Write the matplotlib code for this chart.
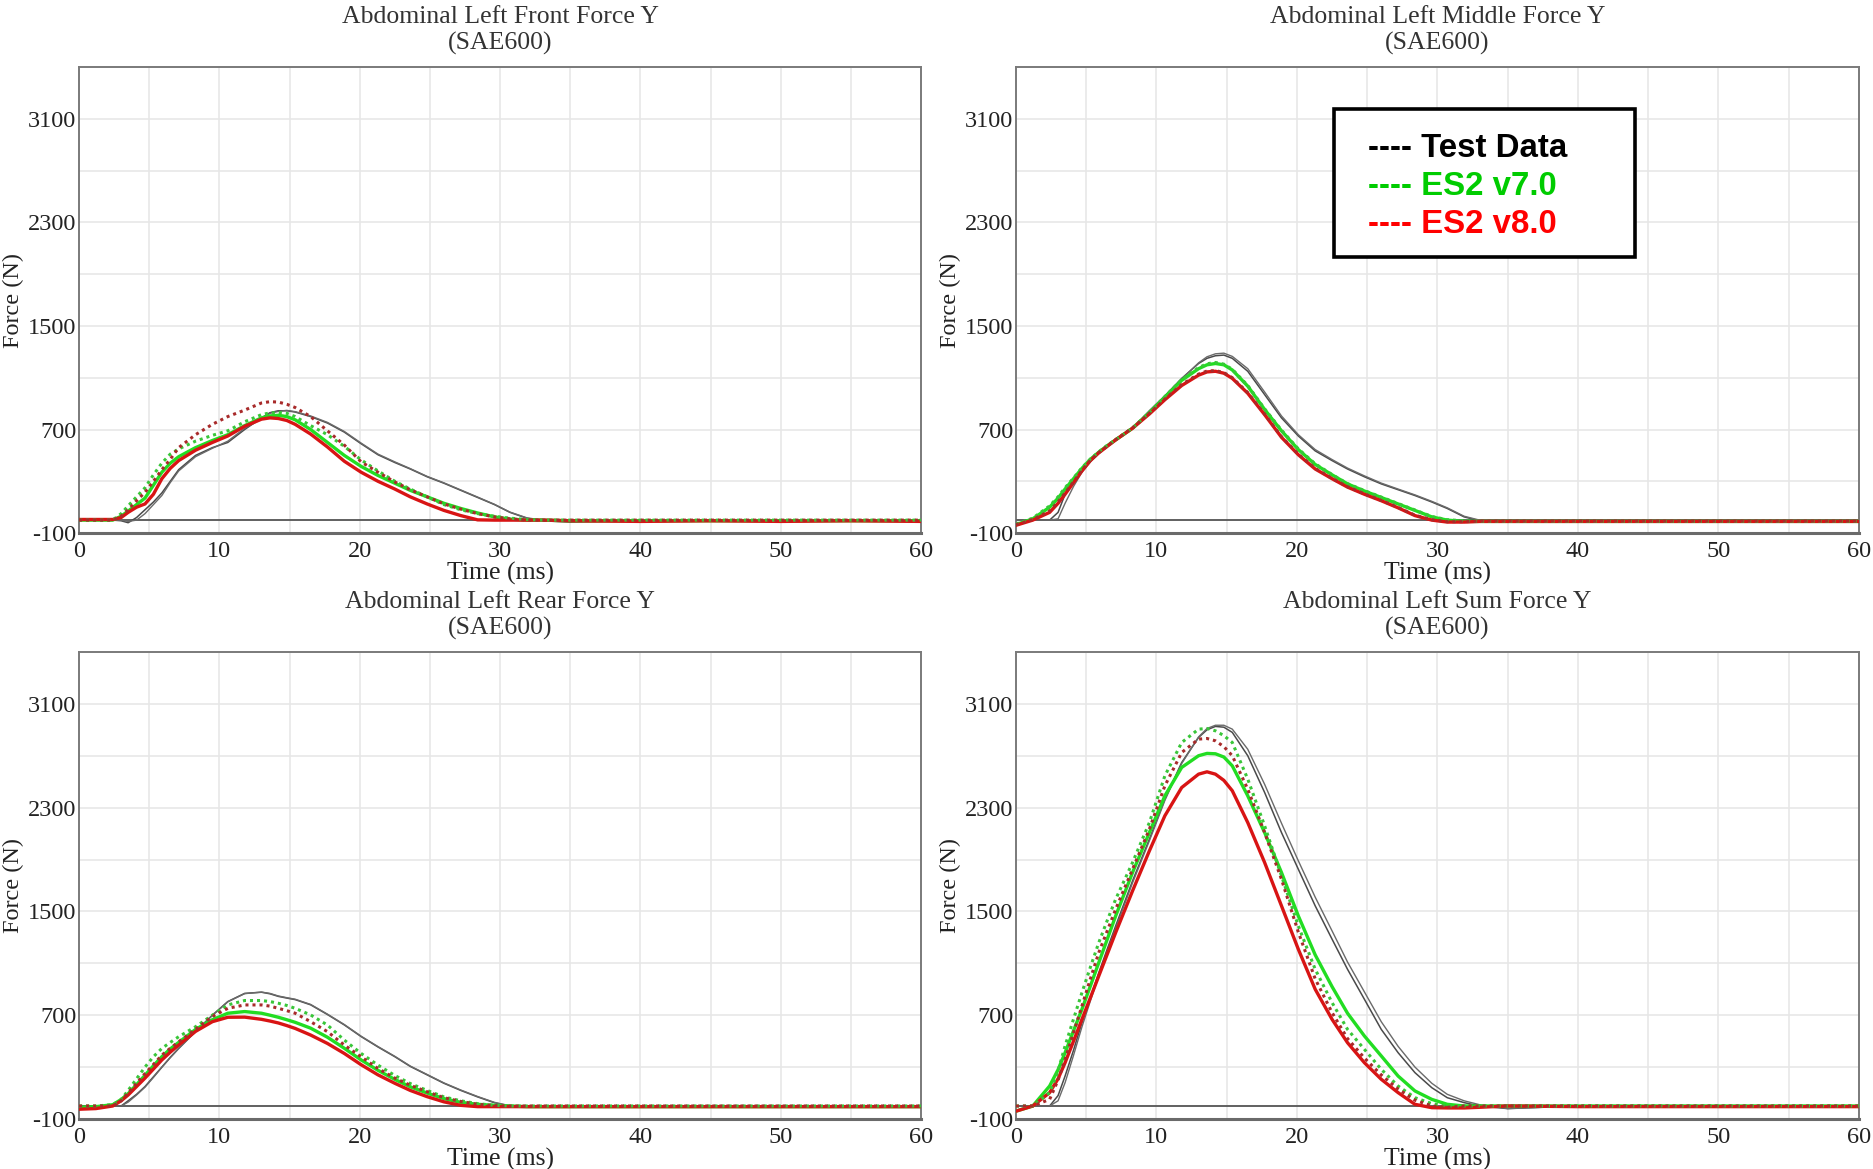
import matplotlib
matplotlib.use("Agg")
import matplotlib.pyplot as plt
from matplotlib.patches import Rectangle
from matplotlib.ticker import FixedLocator

plt.rcParams["axes.unicode_minus"] = False

# ---------------- data ----------------
time_ms = [0, 1.2, 2.4, 3.0, 3.5, 4.1, 4.7, 5.3, 5.9, 6.5, 7.1, 8.3, 9.5, 10.6, 11.8,
           13.0, 13.6, 14.2, 14.8, 15.4, 16.5, 17.7, 18.9, 20.1, 21.3, 22.5, 23.6,
           24.8, 26.0, 27.2, 28.4, 29.6, 30.7, 31.9, 33.0, 35, 40, 45, 50, 55, 60]

panel_titles = ["Abdominal Left Front Force Y", "Abdominal Left Middle Force Y",
                "Abdominal Left Rear Force Y", "Abdominal Left Sum Force Y"]
panel_subtitle = "(SAE600)"

x_ticks = [0, 10, 20, 30, 40, 50, 60]
y_ticks = [-100, 700, 1500, 2300, 3100]

legend_labels = ["---- Test Data", "---- ES2 v7.0", "---- ES2 v8.0"]

# Front
front_test_a = [0, 0, 0, -5, -20, 20, 80, 140, 210, 300, 390, 500, 560, 600, 700, 790, 830, 845, 845, 835,
                800, 750, 680, 590, 505, 445, 395, 335, 285, 230, 175, 120, 60, 15, -5, -15, -5, -5, -5, -5, -5]
front_test_b = [0, 0, 0, 0, -10, 0, 50, 120, 190, 290, 380, 490, 555, 610, 710, 780, 825, 840, 848, 838,
                805, 755, 685, 595, 510, 450, 398, 338, 288, 233, 178, 122, 62, 18, 0, -10, -5, -5, -5, -5, -5]
front_v7 = [0, 0, 0, 30, 70, 120, 170, 270, 370, 440, 490, 560, 615, 660, 730, 790, 805, 810, 800, 775,
            700, 600, 500, 415, 345, 285, 230, 180, 130, 90, 55, 25, 8, 0, 0, -5, -5, -5, -5, -5, -5]
front_v7_dot = [0, 0, 0, 50, 110, 180, 250, 350, 440, 510, 550, 610, 655, 690, 760, 815, 828, 832, 825, 800,
                730, 660, 570, 465, 380, 300, 240, 180, 120, 80, 50, 30, 15, 5, 0, 0, 0, 0, 0, 0, 0]
front_v8 = [5, 5, 5, 20, 60, 100, 125, 200, 320, 400, 460, 540, 600, 650, 725, 780, 790, 785, 770, 740,
            665, 565, 455, 370, 300, 240, 180, 125, 75, 35, 2, 0, 0, 0, 0, -5, -10, -5, -10, -5, -10]
front_v8_dot = [0, 0, 0, 30, 80, 150, 215, 300, 390, 470, 560, 660, 740, 800, 850, 905, 915, 912, 895, 870,
                800, 690, 580, 450, 370, 295, 235, 180, 125, 85, 50, 25, 10, 0, 0, 0, 0, 0, 0, 0, 0]

# Middle
middle_test_a = [0, 0, 0, 60, 200, 300, 385, 455, 520, 575, 620, 710, 845, 960, 1095, 1210, 1250, 1270, 1275, 1250,
                 1150, 970, 790, 650, 535, 460, 395, 335, 280, 235, 190, 140, 90, 25, -5, -10, -10, -10, -10, -5, -5]
middle_test_b = [0, 0, 0, 10, 130, 260, 370, 450, 515, 572, 618, 712, 840, 955, 1090, 1215, 1262, 1285, 1290, 1265,
                 1170, 990, 805, 660, 545, 468, 402, 342, 286, 240, 195, 145, 95, 30, 0, -10, -10, -10, -10, -5, -5]
middle_v7 = [-35, 10, 100, 170, 240, 320, 400, 470, 525, 575, 620, 710, 830, 950, 1080, 1170, 1200, 1210, 1200, 1160,
             1035, 855, 690, 545, 430, 350, 280, 225, 175, 125, 75, 25, 0, -10, -10, -10, -10, -10, -10, -10, -10]
middle_v7_dot = [-30, 15, 110, 180, 250, 325, 405, 472, 528, 578, 622, 712, 832, 955, 1085, 1178, 1208, 1218, 1205, 1165,
                 1040, 860, 695, 550, 435, 352, 282, 228, 178, 128, 78, 28, 3, -5, -10, -10, -10, -10, -10, -10, -10]
middle_v8 = [-40, 0, 60, 130, 200, 290, 380, 460, 520, 570, 620, 710, 820, 930, 1040, 1120, 1145, 1150, 1135, 1095,
             980, 815, 640, 505, 395, 320, 255, 200, 150, 95, 35, 0, -15, -15, -10, -10, -10, -10, -10, -10, -10]
middle_v8_dot = [-35, 5, 70, 140, 210, 295, 385, 462, 522, 572, 622, 712, 825, 935, 1048, 1128, 1152, 1155, 1140, 1100,
                 985, 820, 645, 510, 400, 322, 258, 203, 152, 98, 38, 3, -12, -12, -8, -8, -8, -8, -8, -8, -8]

# Rear
rear_test_a = [-5, 0, 0, 0, 40, 90, 150, 225, 300, 375, 445, 575, 700, 805, 868, 877, 865, 845, 832, 820,
               780, 705, 625, 535, 455, 380, 305, 240, 175, 120, 70, 25, 0, -5, -5, -5, -5, -5, -5, -5, -5]
rear_test_b = [-5, 0, 0, 0, 30, 85, 145, 220, 298, 372, 442, 572, 698, 803, 866, 878, 868, 848, 835, 823,
               783, 708, 628, 538, 458, 383, 308, 243, 178, 123, 73, 28, 2, -5, -5, -5, -5, -5, -5, -5, -5]
rear_v7 = [-10, -5, 10, 50, 95, 165, 237, 310, 380, 440, 490, 590, 665, 715, 728, 715, 700, 684, 665, 645,
           600, 530, 445, 355, 275, 205, 148, 100, 57, 28, 13, 5, 0, -5, -5, -5, -5, -5, -5, -5, -5]
rear_v7_dot = [0, 0, 10, 50, 120, 210, 300, 380, 444, 490, 534, 611, 700, 779, 813, 813, 805, 792, 775, 753,
               702, 624, 508, 405, 315, 235, 173, 120, 70, 40, 18, 5, 0, 0, 0, 0, 0, 0, 0, 0, 0]
rear_v8 = [-25, -20, 0, 40, 85, 150, 215, 285, 355, 415, 470, 575, 650, 684, 685, 668, 655, 640, 620, 598,
           547, 482, 405, 318, 240, 175, 120, 72, 32, 5, -5, -5, -5, -5, -5, -5, -5, -5, -5, -5, -5]
rear_v8_dot = [0, 0, 0, 40, 100, 175, 250, 320, 392, 445, 495, 591, 690, 753, 779, 779, 770, 753, 735, 715,
               650, 573, 470, 379, 289, 215, 160, 110, 64, 35, 13, 3, 0, 0, 0, 0, 0, 0, 0, 0, 0]

# Sum
sum_test_a = [0, 0, 0, 80, 231, 430, 643, 835, 1028, 1210, 1388, 1735, 2057, 2365, 2648, 2841, 2900, 2926, 2920, 2880,
              2700, 2417, 2108, 1825, 1543, 1286, 1054, 823, 591, 411, 257, 141, 64, 26, 0, -20, 0, 0, 0, 0, 0]
sum_test_b = [0, 0, 0, 40, 180, 390, 610, 810, 1005, 1190, 1370, 1720, 2045, 2355, 2640, 2845, 2910, 2935, 2935, 2905,
              2750, 2480, 2180, 1890, 1610, 1350, 1110, 880, 650, 460, 300, 175, 90, 40, 10, -20, 0, 0, 0, 0, 0]
sum_v7 = [-40, 0, 154, 280, 411, 580, 746, 925, 1106, 1285, 1465, 1800, 2108, 2391, 2610, 2700, 2718, 2715, 2690, 2622,
          2391, 2108, 1800, 1465, 1165, 920, 715, 540, 386, 231, 116, 51, 13, 0, 0, 0, 0, 0, 0, 0, 0]
sum_v7_dot = [0, 0, 103, 270, 463, 670, 874, 1070, 1260, 1430, 1594, 1877, 2185, 2545, 2802, 2905, 2910, 2892, 2855, 2802,
              2520, 2160, 1774, 1388, 1054, 797, 591, 437, 283, 154, 64, 18, 0, 0, 0, 0, 0, 0, 0, 0, 0]
sum_v8 = [-40, 0, 103, 210, 334, 500, 668, 835, 1003, 1170, 1337, 1658, 1967, 2237, 2455, 2558, 2576, 2558, 2510, 2430,
          2185, 1877, 1543, 1208, 900, 668, 488, 334, 206, 103, 13, -13, -15, -15, -10, 0, -5, -5, -5, -5, -5]
sum_v8_dot = [0, 0, 51, 200, 360, 565, 771, 980, 1183, 1350, 1517, 1825, 2134, 2468, 2725, 2828, 2833, 2815, 2770, 2700,
              2442, 2108, 1748, 1340, 980, 720, 520, 370, 240, 130, 45, 0, -10, 0, 0, 0, 0, 0, 0, 0, 0]

panels = [
    (front_test_a, front_test_b, front_v7, front_v7_dot, front_v8, front_v8_dot),
    (middle_test_a, middle_test_b, middle_v7, middle_v7_dot, middle_v8, middle_v8_dot),
    (rear_test_a, rear_test_b, rear_v7, rear_v7_dot, rear_v8, rear_v8_dot),
    (sum_test_a, sum_test_b, sum_v7, sum_v7_dot, sum_v8, sum_v8_dot),
]

# ---------------- styling ----------------
serif = ["Liberation Serif", "DejaVu Serif"]
c_test = "#4a4a4a"
c_green = "#22dd22"
c_green_dot = "#39c639"
c_red = "#d81414"
c_red_dot = "#a82a2a"

fig = plt.figure(figsize=(18.73, 11.69), dpi=100)
positions = [
    [0.0422, 0.5440, 0.4496, 0.3986],
    [0.5424, 0.5440, 0.4501, 0.3986],
    [0.0422, 0.0428, 0.4496, 0.3995],
    [0.5424, 0.0428, 0.4501, 0.3995],
]

axes = []
for pos, title, series in zip(positions, panel_titles, panels):
    ax = fig.add_axes(pos)
    axes.append(ax)
    ta, tb, v7, v7d, v8, v8d = series
    ax.set_xlim(0, 60)
    ax.set_ylim(-100, 3500)

    ax.xaxis.set_major_locator(FixedLocator(x_ticks))
    ax.xaxis.set_minor_locator(FixedLocator([5, 15, 25, 35, 45, 55]))
    ax.yaxis.set_major_locator(FixedLocator(y_ticks))
    ax.yaxis.set_minor_locator(FixedLocator([300, 1100, 1900, 2700]))
    ax.grid(True, which="both", color="#e6e6e6", lw=1.1)
    ax.set_axisbelow(True)
    ax.tick_params(which="both", length=0, labelsize=17.5, labelcolor="#222222")
    ax.tick_params(axis="y", pad=2)
    ax.tick_params(axis="x", pad=6)
    for lab in ax.get_xticklabels() + ax.get_yticklabels():
        lab.set_family(serif)
    for sp in ax.spines.values():
        sp.set_color("#7a7a7a")
        sp.set_linewidth(1.4)
    ax.spines["bottom"].set_linewidth(2.2)
    ax.spines["bottom"].set_color("#6a6a6a")

    ax.axhline(0, color="#606060", lw=1.4, zorder=2)

    ax.plot(time_ms, ta, color=c_test, lw=1.1, zorder=3)
    ax.plot(time_ms, tb, color="#6a6a6a", lw=1.0, zorder=3)
    ax.plot(time_ms, v7, color=c_green, lw=2.4, zorder=4, solid_joinstyle="round")
    ax.plot(time_ms, v8, color=c_red, lw=2.4, zorder=5, solid_joinstyle="round")
    ax.plot(time_ms, v7d, color=c_green_dot, lw=2.2, ls=(0, (1, 1.3)), zorder=6)
    ax.plot(time_ms, v8d, color=c_red_dot, lw=2.2, ls=(0, (1, 1.3)), zorder=6)

    ax.set_xlabel("Time (ms)", family=serif, fontsize=18.5, color="#222222", labelpad=0)
    ax.set_ylabel("Force (N)", family=serif, fontsize=17.5, color="#222222")
    ax.yaxis.set_label_coords(-0.0655, 0.5)
    ax.text(0.5, 1.108, title, transform=ax.transAxes, ha="center", va="center",
            family=serif, fontsize=18.5, color="#333333")
    ax.text(0.5, 1.051, panel_subtitle, transform=ax.transAxes, ha="center", va="center",
            family=serif, fontsize=18.5, color="#333333")

# legend box in the middle panel (drawn as text, as in the reference)
ax_leg = axes[1]
ax_leg.add_patch(Rectangle((0.377, 0.592), 0.357, 0.318, transform=ax_leg.transAxes,
                           facecolor="white", edgecolor="black", lw=2.6, zorder=10))
leg_colors = ["#000000", "#00cc00", "#ff0000"]
leg_y = [0.826, 0.744, 0.662]
for lab, col, yy in zip(legend_labels, leg_colors, leg_y):
    ax_leg.text(0.4176, yy, lab, transform=ax_leg.transAxes, ha="left", va="center",
                family=["Liberation Sans", "DejaVu Sans"], fontweight="bold",
                fontsize=23.8, color=col, zorder=11)

fig.savefig("out.png", dpi=100)
